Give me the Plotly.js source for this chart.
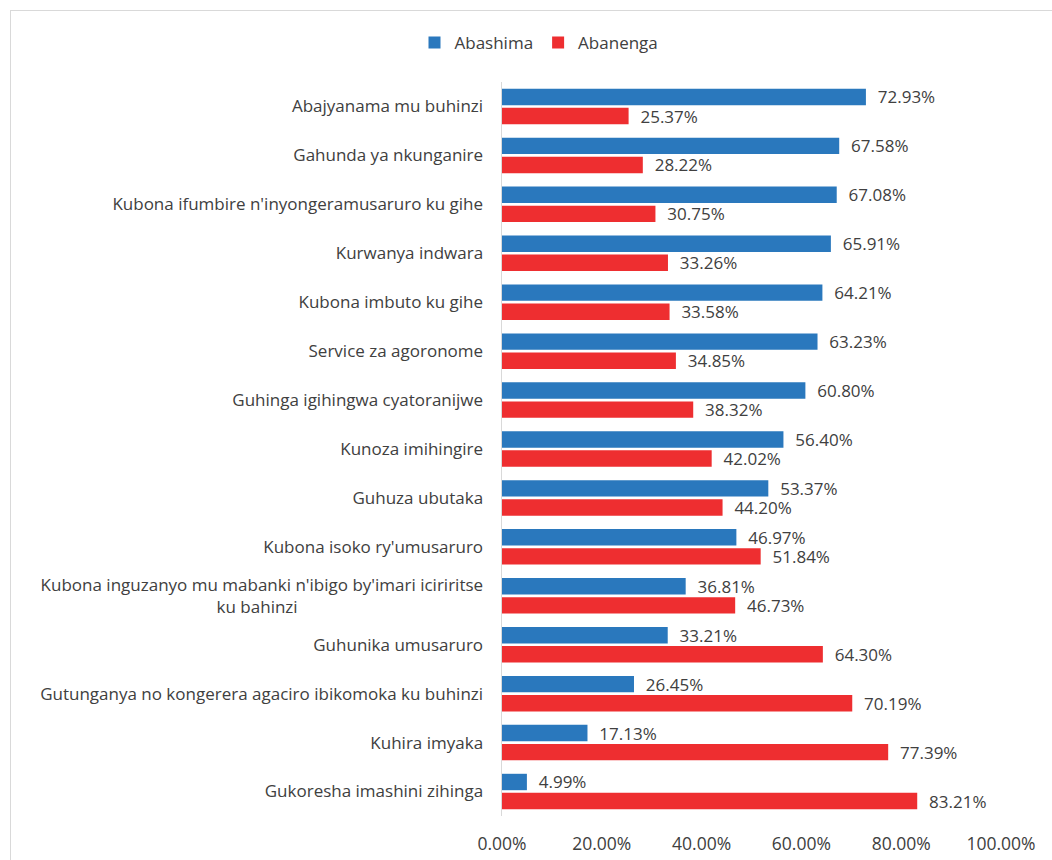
<!DOCTYPE html>
<html>
<head>
<meta charset="utf-8">
<script src="https://cdn.plot.ly/plotly-3.0.1.min.js"></script>
<style>
  body { margin: 0; background: #fff; overflow: hidden; }
  #chart { position: absolute; left: 0; top: 0; width: 1052px; height: 860px; }
  #frame { position: absolute; left: 10px; top: 10px; width: 1100px; height: 900px;
           border: 1.5px solid #d9d9d9; pointer-events: none; }
</style>
</head>
<body>
<div id="chart"></div>
<div id="frame"></div>
<script>
let categories = [
    "Abajyanama mu buhinzi",
    "Gahunda ya nkunganire",
    "Kubona ifumbire n'inyongeramusaruro ku gihe",
    "Kurwanya indwara",
    "Kubona imbuto ku gihe",
    "Service za agoronome",
    "Guhinga igihingwa cyatoranijwe",
    "Kunoza imihingire",
    "Guhuza ubutaka",
    "Kubona isoko ry'umusaruro",
    "Kubona inguzanyo mu mabanki n'ibigo by'imari iciriritse<br>ku bahinzi" + "\u00a0".repeat(42),
    "Guhunika umusaruro",
    "Gutunganya no kongerera agaciro ibikomoka ku buhinzi",
    "Kuhira imyaka",
    "Gukoresha imashini zihinga"
];
let abashima = [72.93, 67.58, 67.08, 65.91, 64.21, 63.23, 60.80, 56.40, 53.37, 46.97, 36.81, 33.21, 26.45, 17.13, 4.99];
let abanenga = [25.37, 28.22, 30.75, 33.26, 33.58, 34.85, 38.32, 42.02, 44.20, 51.84, 46.73, 64.30, 70.19, 77.39, 83.21];

let fontFamily = "'Open Sans', 'Noto Sans', sans-serif";
let textColor = "#404040";

function pct(v) {
    return "\u00a0\u00a0" + v.toFixed(2) + "%";
}

let blue = {
    type: 'bar',
    orientation: 'h',
    name: 'Abashima',
    y: categories,
    x: abashima,
    text: abashima.map(pct),
    textposition: 'outside',
    textfont: { size: 17, color: textColor, family: fontFamily },
    constraintext: 'none',
    cliponaxis: false,
    marker: { color: '#2a78bd' },
    hoverinfo: 'x+y'
};

let red = {
    type: 'bar',
    orientation: 'h',
    name: 'Abanenga',
    y: categories,
    x: abanenga,
    text: abanenga.map(pct),
    textposition: 'outside',
    textfont: { size: 17, color: textColor, family: fontFamily },
    constraintext: 'none',
    cliponaxis: false,
    marker: { color: '#ee2e30' },
    hoverinfo: 'x+y'
};

let layout = {
    width: 1052,
    height: 860,
    margin: { l: 502, r: 51, t: 81.5, b: 43.5 },
    paper_bgcolor: '#fff',
    plot_bgcolor: '#fff',
    font: { family: fontFamily, size: 17, color: textColor },
    barmode: 'group',
    bargap: 0.22,
    bargroupgap: 0.14,
    showlegend: true,
    legend: {
        orientation: 'h',
        x: 0.5 + 13 / 1052, xref: 'container', xanchor: 'center',
        y: 1 - 43 / 860, yref: 'container', yanchor: 'middle',
        font: { size: 17, color: textColor },
        itemwidth: 30
    },
    xaxis: {
        range: [0, 100],
        dtick: 20,
        tick0: 0,
        tickformat: '.2f',
        ticksuffix: '%',
        showgrid: false,
        zeroline: false,
        showline: false,
        ticks: '',
        ticklabelstandoff: 15,
        tickfont: { size: 17.5, color: textColor }
    },
    yaxis: {
        type: 'category',
        autorange: 'reversed',
        showgrid: false,
        showline: true,
        linecolor: '#d9d9d9',
        linewidth: 1.5,
        ticks: '',
        ticklabelstandoff: 14,
        tickfont: { size: 17, color: textColor }
    }
};

Plotly.newPlot('chart', [blue, red], layout, { displayModeBar: false, staticPlot: true });
</script>
</body>
</html>
